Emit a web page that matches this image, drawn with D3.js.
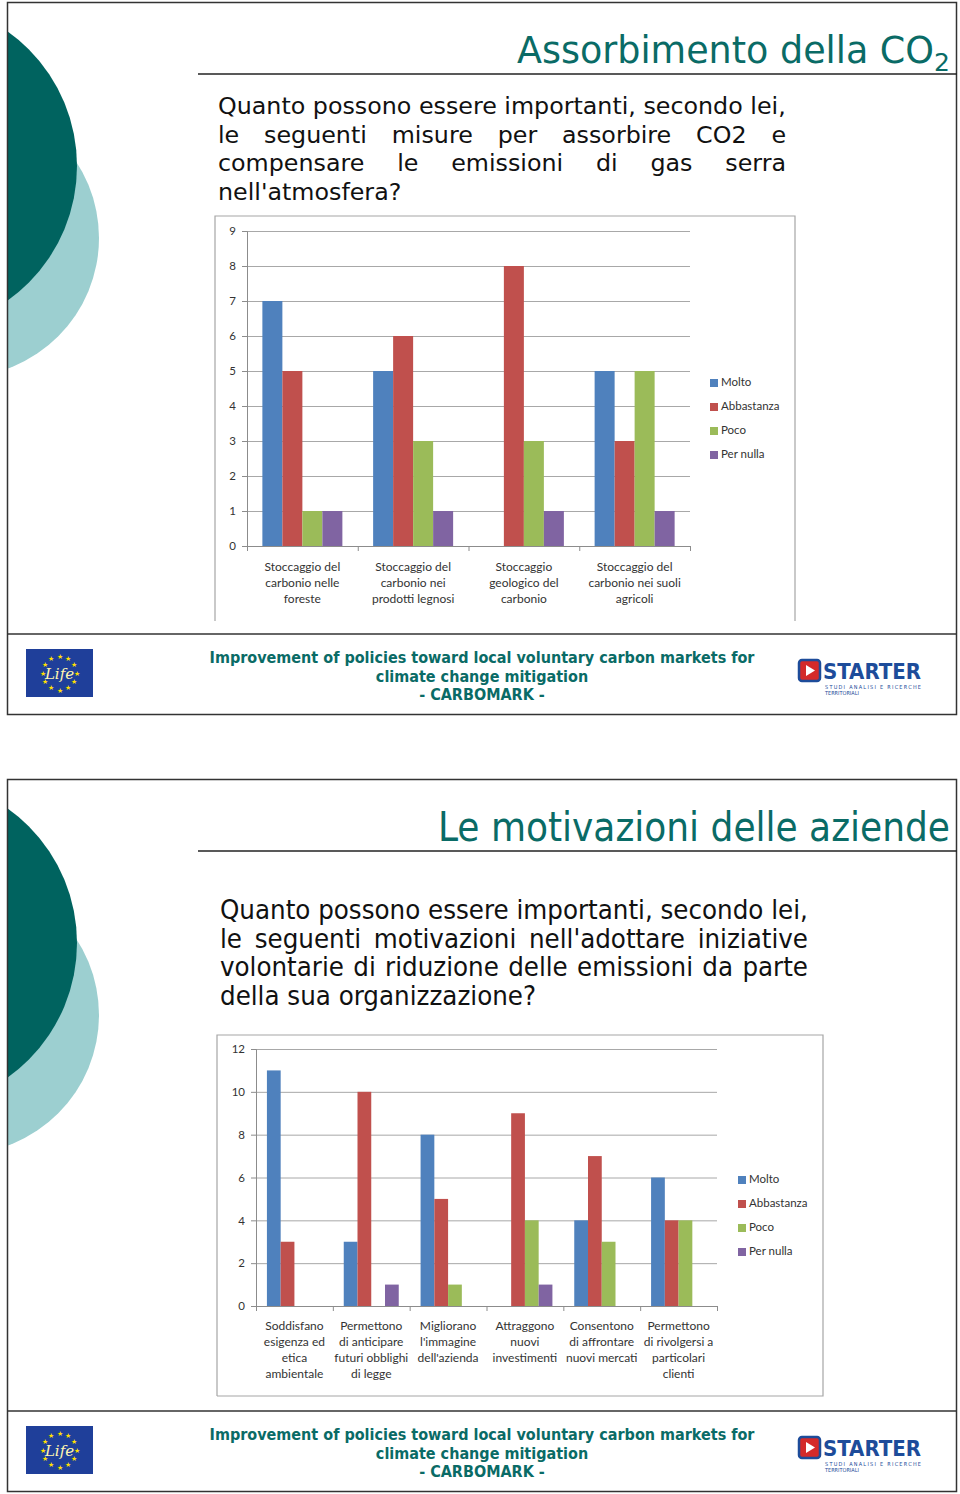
<!DOCTYPE html>
<html><head><meta charset="utf-8">
<script src="https://cdn.jsdelivr.net/npm/d3@7"></script>
<style>body{margin:0;background:#fff}svg{display:block}</style>
</head><body>
<svg id="c" width="960" height="1494"></svg>
<script>
// ---------- DATA ----------
const seriesNames = ["Molto", "Abbastanza", "Poco", "Per nulla"];
const seriesColors = ["#4f81bd", "#c0504d", "#9bbb59", "#8064a2"];

const chart1Categories = [
  ["Stoccaggio del", "carbonio nelle", "foreste"],
  ["Stoccaggio del", "carbonio nei", "prodotti legnosi"],
  ["Stoccaggio", "geologico del", "carbonio"],
  ["Stoccaggio del", "carbonio nei suoli", "agricoli"]
];
const chart1Molto      = [7, 5, 0, 5];
const chart1Abbastanza = [5, 6, 8, 3];
const chart1Poco       = [1, 3, 3, 5];
const chart1PerNulla   = [1, 1, 1, 1];
const chart1Ticks = [0, 1, 2, 3, 4, 5, 6, 7, 8, 9];

const chart2Categories = [
  ["Soddisfano", "esigenza ed", "etica", "ambientale"],
  ["Permettono", "di anticipare", "futuri obblighi", "di legge"],
  ["Migliorano", "l'immagine", "dell'azienda"],
  ["Attraggono", "nuovi", "investimenti"],
  ["Consentono", "di affrontare", "nuovi mercati"],
  ["Permettono", "di rivolgersi a", "particolari", "clienti"]
];
const chart2Molto      = [11, 3, 8, 0, 4, 6];
const chart2Abbastanza = [3, 10, 5, 9, 7, 4];
const chart2Poco       = [0, 0, 1, 4, 3, 4];
const chart2PerNulla   = [0, 1, 0, 1, 0, 0];
const chart2Ticks = [0, 2, 4, 6, 8, 10, 12];

const title1 = "Assorbimento della CO";
const title2 = "Le motivazioni delle aziende";
const question1 = [
  "Quanto possono essere importanti, secondo lei,",
  "le seguenti misure per assorbire CO2 e",
  "compensare le emissioni di gas serra",
  "nell'atmosfera?"
];
const question2 = [
  "Quanto possono essere importanti, secondo lei,",
  "le seguenti motivazioni nell'adottare iniziative",
  "volontarie di riduzione delle emissioni da parte",
  "della sua organizzazione?"
];
const footerLines = [
  "Improvement of policies toward local voluntary carbon markets for",
  "climate change mitigation",
  "- CARBOMARK -"
];

// ---------- DRAW ----------
const svg = d3.select("#c");
const TEAL = "#0a6b66";

function slide(top, opts) {
  const g = svg.append("g").attr("transform", `translate(0,${top})`);
  const clip = "clip" + top;
  g.append("clipPath").attr("id", clip).append("rect").attr("x", 7).attr("y", 0).attr("width", 950).attr("height", 632);
  const cg = g.append("g").attr("clip-path", `url(#${clip})`);
  cg.append("circle").attr("cx", -40).attr("cy", 236).attr("r", 139).attr("fill", "#9ccfd0");
  cg.append("circle").attr("cx", -88).attr("cy", 164).attr("r", 165).attr("fill", "#00635f");
  g.append("rect").attr("x", 7.5).attr("y", 0.5).attr("width", 949).attr("height", 712)
    .attr("fill", "none").attr("stroke", "#333").attr("stroke-width", 1.5);
  g.append("line").attr("x1", 7).attr("x2", 957).attr("y1", 632).attr("y2", 632)
    .attr("stroke", "#333").attr("stroke-width", 1.5);
  g.append("line").attr("x1", 198).attr("x2", 957).attr("y1", opts.ruleY).attr("y2", opts.ruleY)
    .attr("stroke", "#222").attr("stroke-width", 1.5);
  return g;
}

function justify(g, lines, x0, x1, y0, lh, family) {
  const probe = g.append("text").attr("font-family", family).attr("font-size", 100).text(lines[0]);
  const w100 = probe.node().getComputedTextLength();
  probe.remove();
  const fs = 100 * (x1 - x0) / w100;
  lines.forEach((line, i) => {
    const y = y0 + i * lh;
    const words = line.split(" ");
    if (i === lines.length - 1 || i === 0) {
      g.append("text").attr("x", x0).attr("y", y).attr("font-family", family)
        .attr("font-size", fs).attr("fill", "#111").text(line);
      return;
    }
    const ws = words.map(w => {
      const t = g.append("text").attr("font-family", family).attr("font-size", fs).text(w);
      const l = t.node().getComputedTextLength(); t.remove(); return l;
    });
    const total = d3.sum(ws);
    const gap = (x1 - x0 - total) / (words.length - 1);
    let x = x0;
    words.forEach((w, k) => {
      g.append("text").attr("x", x).attr("y", y).attr("font-family", family)
        .attr("font-size", fs).attr("fill", "#111").text(w);
      x += ws[k] + gap;
    });
  });
}

function footer(g, y0) {
  const lg = g.append("g").attr("transform", `translate(26,${y0})`);
  lg.append("rect").attr("width", 67).attr("height", 48).attr("fill", "#1f3f9a");
  d3.range(12).forEach(i => {
    const a = i / 12 * 2 * Math.PI;
    lg.append("text").attr("x", 33.5 + 17 * Math.cos(a)).attr("y", 24 + 17 * Math.sin(a) + 2.5)
      .attr("text-anchor", "middle").attr("font-size", 7).attr("fill", "#ffe000").text("★");
  });
  lg.append("text").attr("x", 33.5).attr("y", 30).attr("text-anchor", "middle")
    .attr("font-family", "DejaVu Serif").attr("font-style", "italic").attr("font-size", 15)
    .attr("fill", "#fff6b0").text("Life");
  footerLines.forEach((t, i) => {
    g.append("text").attr("x", 482).attr("y", y0 + 14 + i * 18.7).attr("text-anchor", "middle")
      .attr("font-family", "DejaVu Sans Condensed").attr("font-weight", "bold").attr("font-size", 16)
      .attr("fill", "#0a6b66").text(t);
  });
  const sg = g.append("g").attr("transform", `translate(798,${y0 + 10})`);
  sg.append("rect").attr("x", 1).attr("y", 1).attr("width", 21).attr("height", 21).attr("rx", 3)
    .attr("fill", "#d42a2a").attr("stroke", "#1d4c9a").attr("stroke-width", 2.5);
  sg.append("path").attr("d", "M8,6 L17,11.5 L8,17 Z").attr("fill", "#fff");
  sg.append("text").attr("x", 25).attr("y", 20).attr("font-family", "DejaVu Sans Condensed")
    .attr("font-weight", "bold").attr("font-size", 22).attr("fill", "#1d4c9a").attr("textLength", 98)
    .attr("lengthAdjust", "spacingAndGlyphs").text("STARTER");
  sg.append("text").attr("x", 27).attr("y", 30).attr("font-family", "DejaVu Sans Condensed")
    .attr("font-size", 5.5).attr("fill", "#1d4c9a").attr("textLength", 96).text("STUDI ANALISI E RICERCHE");
  sg.append("text").attr("x", 27).attr("y", 36).attr("font-family", "DejaVu Sans Condensed")
    .attr("font-size", 5.5).attr("fill", "#1d4c9a").text("TERRITORIALI");
}

function barChart(g, o) {
  const box = g.append("g");
  box.append("path").attr("d", `M${o.bx0},${o.by1} V${o.by0} H${o.bx1} V${o.by1}` + (o.closed ? ` H${o.bx0}` : ""))
    .attr("fill", "none").attr("stroke", "#a6a6a6").attr("stroke-width", 1.2);
  const y = d3.scaleLinear().domain([0, d3.max(o.ticks)]).range([o.y0, o.yTop]);
  const x = d3.scaleBand().domain(d3.range(o.cats.length)).range([o.x0, o.x1]);
  const xi = d3.scaleBand().domain(d3.range(seriesNames.length))
    .range([(x.bandwidth() - o.barW * 4) / 2, (x.bandwidth() + o.barW * 4) / 2]);
  const grid = d3.axisLeft(y).tickValues(o.ticks).tickSize(-(o.x1 - o.x0)).tickFormat("");
  const gg = box.append("g").attr("transform", `translate(${o.x0},0)`).call(grid);
  gg.select(".domain").remove();
  gg.selectAll("line").attr("stroke", "#a8a8a8").attr("stroke-width", 1);
  const ya = box.append("g").attr("transform", `translate(${o.x0},0)`)
    .call(d3.axisLeft(y).tickValues(o.ticks).tickSize(5).tickPadding(6));
  ya.select(".domain").attr("stroke", "#8c8c8c");
  ya.selectAll("line").attr("stroke", "#8c8c8c");
  ya.selectAll("text").attr("font-family", "Lato").attr("font-size", 11.5).attr("fill", "#333");
  const vals = o.values;
  vals.forEach((arr, s) => {
    box.append("g").selectAll("rect").data(arr).join("rect")
      .attr("x", (d, i) => x(i) + xi(s)).attr("width", xi.bandwidth())
      .attr("y", d => y(d)).attr("height", d => y(0) - y(d))
      .attr("fill", seriesColors[s]);
  });
  const bounds = d3.range(o.cats.length + 1).map(i => o.x0 + i * x.bandwidth());
  box.append("line").attr("x1", o.x0).attr("x2", o.x1).attr("y1", y(0) + 0.5).attr("y2", y(0) + 0.5)
    .attr("stroke", "#8c8c8c");
  box.selectAll(".xt").data(bounds).join("line").attr("class", "xt")
    .attr("x1", d => d + 0.5).attr("x2", d => d + 0.5).attr("y1", y(0)).attr("y2", y(0) + 5)
    .attr("stroke", "#8c8c8c");
  o.cats.forEach((lines, i) => {
    lines.forEach((t, k) => {
      box.append("text").attr("x", x(i) + x.bandwidth() / 2).attr("y", o.labY + k * 16)
        .attr("text-anchor", "middle").attr("dominant-baseline", "middle")
        .attr("font-family", "Lato").attr("font-size", 12).attr("fill", "#333").text(t);
    });
  });
  seriesNames.forEach((n, s) => {
    const ly = o.legY + s * 24;
    box.append("rect").attr("x", o.legX).attr("y", ly - 4).attr("width", 8).attr("height", 8).attr("fill", seriesColors[s]);
    box.append("text").attr("x", o.legX + 11).attr("y", ly).attr("dominant-baseline", "middle")
      .attr("font-family", "Lato").attr("font-size", 11.5).attr("fill", "#333").text(n);
  });
}

// ----- Slide 1 -----
const s1 = slide(2, { ruleY: 72 });
const t1 = s1.append("text").attr("x", 950).attr("y", 61).attr("text-anchor", "end")
  .attr("font-family", "DejaVu Sans").attr("font-size", 36.5).attr("fill", TEAL);
t1.append("tspan").text(title1);
t1.append("tspan").attr("font-size", 25).attr("dy", 8).text("2");
justify(s1, question1, 218, 786, 112, 28.6, "DejaVu Sans");
barChart(svg, {
  bx0: 215, bx1: 795, by0: 216, by1: 621, closed: false,
  x0: 247, x1: 690, y0: 546, yTop: 231, ticks: chart1Ticks, barW: 20,
  cats: chart1Categories, values: [chart1Molto, chart1Abbastanza, chart1Poco, chart1PerNulla],
  labY: 568, legX: 710, legY: 383
});
footer(s1, 647);

// ----- Slide 2 -----
const s2 = slide(779, { ruleY: 72 });
s2.append("text").attr("x", 950).attr("y", 62).attr("text-anchor", "end")
  .attr("font-family", "DejaVu Sans Condensed").attr("font-size", 40).attr("fill", TEAL).text(title2);
justify(s2, question2, 220, 808, 140, 28.6, "DejaVu Sans Condensed");
barChart(svg, {
  bx0: 217, bx1: 823, by0: 1035, by1: 1396, closed: true,
  x0: 256, x1: 717, y0: 1306, yTop: 1049, ticks: chart2Ticks, barW: 13.75,
  cats: chart2Categories, values: [chart2Molto, chart2Abbastanza, chart2Poco, chart2PerNulla],
  labY: 1327, legX: 738, legY: 1180
});
footer(s2, 647);
</script>
</body></html>
